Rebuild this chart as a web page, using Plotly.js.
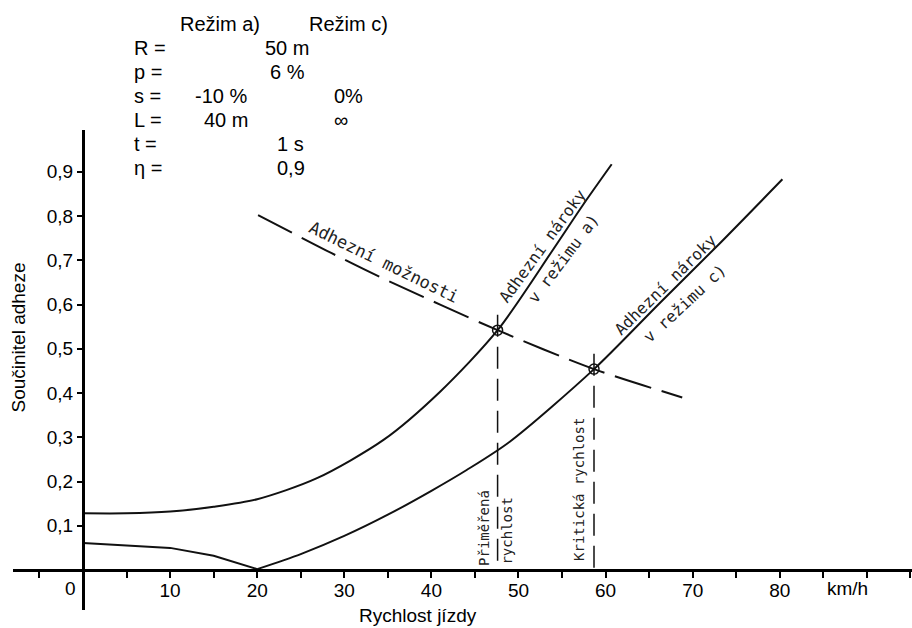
<!DOCTYPE html>
<html>
<head>
<meta charset="utf-8">
<script src="https://cdn.plot.ly/plotly-3.0.1.min.js"></script>
<style>
  html, body { margin: 0; padding: 0; background: #fff; }
  #chart { width: 912px; height: 628px; }
</style>
</head>
<body>
<div id="chart"></div>
<script>
// Adhesion demand curves for two driving regimes vs. available adhesion

// Regime a) demand curve
const speedA    = [0, 5, 10, 15, 20, 26.8, 34.5, 41.0, 47.6, 54.0, 57.4, 60.7];
const adhesionA = [0.128, 0.128, 0.132, 0.143, 0.160, 0.207, 0.294, 0.403, 0.542, 0.725, 0.825, 0.917];

// Regime c) demand curve (sharp minimum at 20 km/h)
const speedC    = [0, 5, 10, 15, 20, 25, 30, 35, 40, 44.05, 49.0, 58.67, 66.2, 73.1, 80.3];
const adhesionC = [0.061, 0.056, 0.050, 0.032, 0.002, 0.036, 0.077, 0.125, 0.179, 0.226, 0.290, 0.454, 0.603, 0.738, 0.883];

// Available adhesion
const speedAvail    = [20.1, 28.55, 33.9, 47.6, 58.67, 68.8];
const adhesionAvail = [0.802, 0.716, 0.664, 0.542, 0.454, 0.390];

// Intersections: adequate speed (a) and critical speed (c)
const crossSpeed    = [47.6, 58.67];
const crossAdhesion = [0.542, 0.454];

// Axis ticks
const xTickVals  = [-5, 0, 5, 10, 15, 20, 25, 30, 35, 40, 45, 50, 55, 60, 65, 70, 75, 80, 85, 90, 95];
const xTickText  = ['', '', '', '10', '', '20', '', '30', '', '40', '', '50', '', '60', '', '70', '', '80', '', '', ''];
const yTickVals  = [0.1, 0.2, 0.3, 0.4, 0.5, 0.6, 0.7, 0.8, 0.9];
const yTickText  = ['0,1', '0,2', '0,3', '0,4', '0,5', '0,6', '0,7', '0,8', '0,9'];

// Parameter table
const paramHeads  = ['Režim a)', 'Režim c)'];
const paramNames  = ['R =', 'p =', 's =', 'L =', 't =', 'η ='];
const paramShared = ['50 m', '6 %', '', '', '1 s', '0,9'];
const paramModeA  = ['', '', '-10 %', '40 m', '', ''];
const paramModeC  = ['', '', '0%', '∞', '', ''];

const W = 912, H = 628;
const M = { l: 13, r: 0, t: 130, b: 18 };
const xRange = [-8.037, 95.18];
const yRange = [-0.0904, 0.9944];
const xAxisPos = (0 - yRange[0]) / (yRange[1] - yRange[0]);
const yAxisPos = (0 - xRange[0]) / (xRange[1] - xRange[0]);

const plotW = W - M.l - M.r, plotH = H - M.t - M.b;
const pxX = p => (p - M.l) / plotW;
const pxY = p => (H - M.b - p) / plotH;

const sans = 'Liberation Sans, Arial, sans-serif';
const hand = 'DejaVu Sans Mono, monospace';
const ink = '#111';

const traces = [
  { x: speedA, y: adhesionA, mode: 'lines', line: { color: ink, width: 2, shape: 'spline', smoothing: 0.8 } },
  { x: speedC.slice(0, 5), y: adhesionC.slice(0, 5), mode: 'lines', line: { color: ink, width: 2 } },
  { x: speedC.slice(4), y: adhesionC.slice(4), mode: 'lines', line: { color: ink, width: 2, shape: 'spline', smoothing: 0.8 } },
  { x: speedAvail, y: adhesionAvail, mode: 'lines', line: { color: ink, width: 2, dash: '38px,11px', shape: 'spline', smoothing: 0.8 } }
];
crossSpeed.forEach((s, i) => {
  traces.push({ x: [s, s], y: [crossAdhesion[i] + 0.035, 0], mode: 'lines',
                line: { color: ink, width: 1.5, dash: '22px,10px' } });
});
traces.push({ x: crossSpeed, y: crossAdhesion, mode: 'markers',
              marker: { symbol: 'circle-open-dot', size: 10, color: ink, line: { color: ink, width: 1.5 } } });

const handNote = (text, x, y, angle, size) => ({
  text, x, y, xref: 'x', yref: 'y', showarrow: false, textangle: angle,
  xanchor: 'center', yanchor: 'middle', font: { family: hand, size, color: '#222' }
});
const labelNote = (text, xp, yp, anchor, size) => ({
  text, x: pxX(xp), y: pxY(yp), xref: 'paper', yref: 'paper', showarrow: false,
  xanchor: anchor || 'left', yanchor: 'middle', font: { family: sans, size: size || 20, color: '#000' }
});

const annotations = [
  handNote('Adhezní možnosti', 34.56, 0.696, 26, 17),
  handNote('Adhezní nároky', 52.8, 0.733, -54, 16),
  handNote('v režimu a)', 55.2, 0.703, -53, 16),
  handNote('Adhezní nároky', 66.9, 0.645, -44.5, 16),
  handNote('v režimu c)', 69.1, 0.602, -43, 16),
  handNote('Přiměřená', 46.04, 0.095, -90, 14),
  handNote('rychlost', 48.74, 0.088, -90, 14),
  handNote('Kritická rychlost', 56.95, 0.181, -90, 14),
  // axis annotations
  { text: '0', x: -1.49, y: -0.041, xref: 'x', yref: 'y', showarrow: false, font: { family: sans, size: 19, color: '#000' } },
  { text: 'km/h', x: 87.77, y: -0.041, xref: 'x', yref: 'y', showarrow: false, font: { family: sans, size: 19, color: '#000' } },
  labelNote('Rychlost jízdy', 418, 615, 'center', 19),
  { text: 'Součinitel adheze', x: pxX(17.5), y: pxY(338), xref: 'paper', yref: 'paper', showarrow: false,
    textangle: -90, xanchor: 'center', yanchor: 'middle', font: { family: sans, size: 19, color: '#000' } }
];

// parameter table
annotations.push(labelNote(paramHeads[0], 178, 24));
annotations.push(labelNote(paramHeads[1], 307, 24));
const rowY = [48, 72, 96, 120, 144, 168];
const sharedX = [263, 268, 0, 0, 275, 275];
paramNames.forEach((n, i) => {
  annotations.push(labelNote(n, 132, rowY[i]));
  if (paramShared[i]) annotations.push(labelNote(paramShared[i], sharedX[i], rowY[i]));
  if (paramModeA[i]) annotations.push(labelNote(paramModeA[i], i === 2 ? 193 : 202, rowY[i]));
  if (paramModeC[i]) annotations.push(labelNote(paramModeC[i], 332, rowY[i]));
});

const axisCommon = { showgrid: false, zeroline: false, fixedrange: true, automargin: false };

const layout = {
  width: W, height: H, margin: M, showlegend: false,
  paper_bgcolor: '#fff', plot_bgcolor: '#fff',
  xaxis: Object.assign({}, axisCommon, {
    range: xRange, anchor: 'free', position: xAxisPos,
    showline: true, linecolor: '#000', linewidth: 3,
    tickmode: 'array', tickvals: xTickVals, ticktext: xTickText,
    ticks: 'outside', ticklen: 6, tickwidth: 2, tickcolor: '#000',
    ticklabelstandoff: -4,
    tickfont: { family: sans, size: 19, color: '#000' }
  }),
  xaxis2: Object.assign({}, axisCommon, {
    range: xRange, overlaying: 'x', anchor: 'free', position: xAxisPos, side: 'bottom',
    showline: false, tickmode: 'array', tickvals: xTickVals, showticklabels: false,
    ticks: 'inside', ticklen: 6, tickwidth: 2, tickcolor: '#000'
  }),
  yaxis: Object.assign({}, axisCommon, {
    range: yRange, anchor: 'free', position: yAxisPos,
    showline: true, linecolor: '#000', linewidth: 3,
    tickmode: 'array', tickvals: yTickVals, ticktext: yTickText,
    ticks: 'outside', ticklen: 5, tickwidth: 2, tickcolor: '#000',
    tickfont: { family: sans, size: 19, color: '#000' }
  }),
  yaxis2: Object.assign({}, axisCommon, {
    range: yRange, overlaying: 'y', anchor: 'free', position: yAxisPos, side: 'left',
    showline: false, tickmode: 'array', tickvals: yTickVals, showticklabels: false,
    ticks: 'inside', ticklen: 5, tickwidth: 2, tickcolor: '#000'
  }),
  annotations
};

Plotly.newPlot('chart', traces, layout, { staticPlot: true, displayModeBar: false });
</script>
</body>
</html>
